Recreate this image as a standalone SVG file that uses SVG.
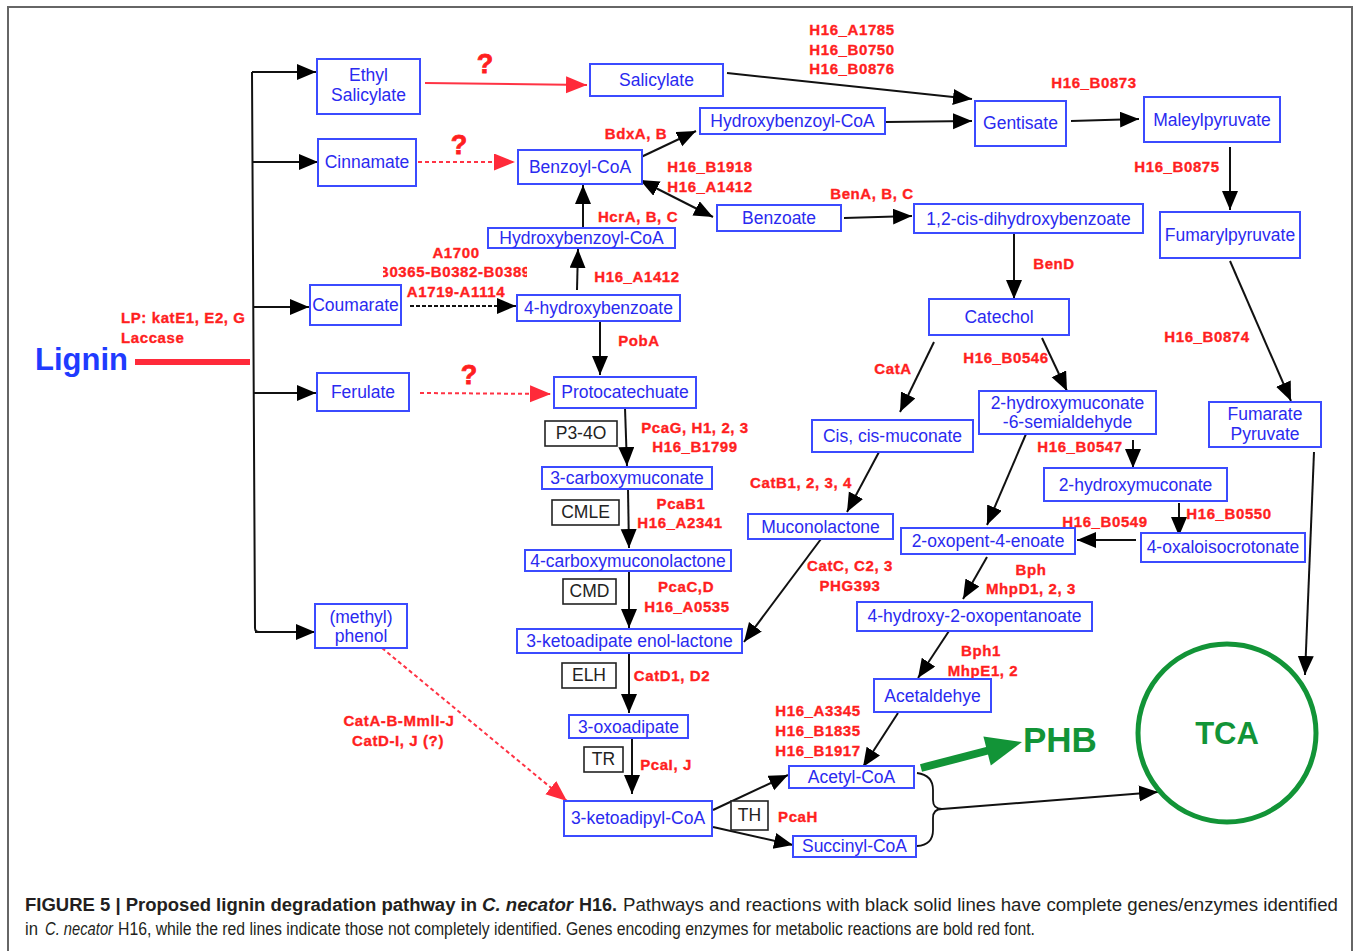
<svg xmlns="http://www.w3.org/2000/svg" width="1355" height="951" viewBox="0 0 1355 951">
<style>
.n rect{fill:#fff;stroke:#3b4bff;stroke-width:2}
.n text{font-family:"Liberation Sans",Arial,sans-serif;font-size:17.5px;fill:#2a2af0;text-anchor:middle}
.b rect{fill:#fff;stroke:#222;stroke-width:1.6}
.b text{font-family:"Liberation Sans",Arial,sans-serif;font-size:17.5px;fill:#222;text-anchor:middle}
.g{font-family:"Liberation Sans",Arial,sans-serif;font-weight:bold;font-size:15px;fill:#ff1f1f;stroke:#ff1f1f;stroke-width:0.35;letter-spacing:0.6px;text-anchor:middle}
.gl{font-family:"Liberation Sans",Arial,sans-serif;font-weight:bold;font-size:15px;fill:#ff1f1f;stroke:#ff1f1f;stroke-width:0.35;letter-spacing:0.6px}
.q{font-family:"Liberation Sans",Arial,sans-serif;font-weight:bold;font-size:27px;fill:#ff1f1f;stroke:#ff1f1f;stroke-width:0.8;text-anchor:middle}
.ln{stroke:#111;stroke-width:2;fill:none;marker-end:url(#ah)}
.rl{stroke:#ff3344;stroke-width:2;fill:none;marker-end:url(#rh)}
.rd{stroke:#ff3344;stroke-width:2;fill:none;stroke-dasharray:4 3;marker-end:url(#rh)}
.kd{stroke:#111;stroke-width:2;fill:none;stroke-dasharray:4 2;marker-end:url(#ah)}
.cap{font-family:"Liberation Sans",Arial,sans-serif;font-size:17.5px;fill:#231f20}
.cb{font-weight:bold}
.ci{font-style:italic}
</style>
<defs>
<marker id="ah" markerUnits="userSpaceOnUse" markerWidth="20" markerHeight="18" refX="19" refY="8" orient="auto-start-reverse"><path d="M0,0 L19,8 L0,16 z" fill="#000"/></marker>
<marker id="rh" markerUnits="userSpaceOnUse" markerWidth="22" markerHeight="18" refX="21" refY="8.5" orient="auto"><path d="M0,0 L21,8.5 L0,17 z" fill="#ff2a3a"/></marker>
<clipPath id="clipB"><rect x="383" y="260" width="144" height="22"/></clipPath>
</defs>

<rect x="8" y="7" width="1344" height="960" fill="#fff" stroke="#666" stroke-width="2"/>

<!-- Connectors -->
<g id="connectors">
  <line x1="135" y1="362" x2="250" y2="362" stroke="#ff2a3a" stroke-width="6"/>
  <path d="M252,72 L255,628 Q255,632 259,632" stroke="#111" stroke-width="2" fill="none"/>
  <line class="ln" x1="252" y1="72" x2="316" y2="72"/>
  <line class="ln" x1="252" y1="162" x2="318" y2="162"/>
  <line class="ln" x1="253" y1="307" x2="309" y2="307"/>
  <line class="ln" x1="254" y1="393" x2="316" y2="393"/>
  <line class="ln" x1="255" y1="632" x2="315" y2="632"/>

  <line class="rl" x1="425" y1="83" x2="587" y2="85"/>
  <line class="rd" x1="418" y1="162" x2="515" y2="162"/>
  <line class="rd" x1="420" y1="393" x2="551" y2="394"/>
  <line class="rd" x1="382" y1="648" x2="567" y2="801"/>
  <line class="kd" x1="410" y1="306" x2="516" y2="306"/>

  <line class="ln" x1="727" y1="73" x2="972" y2="99"/>
  <line class="ln" x1="886" y1="122" x2="972" y2="121"/>
  <line class="ln" x1="1071" y1="121" x2="1139" y2="119"/>
  <line class="ln" x1="1230" y1="147" x2="1230" y2="210"/>
  <line class="ln" x1="1230" y1="261" x2="1291" y2="401"/>
  <line class="ln" x1="1314" y1="452" x2="1305" y2="675"/>
  <line class="ln" x1="639" y1="158" x2="696" y2="131"/>
  <line class="ln" x1="640" y1="180" x2="713" y2="217" marker-start="url(#ah)"/>
  <line class="ln" x1="844" y1="218" x2="912" y2="216"/>
  <line class="ln" x1="1014" y1="234" x2="1014" y2="299"/>
  <line class="ln" x1="583" y1="227" x2="583" y2="185"/>
  <line class="ln" x1="577" y1="290" x2="578" y2="249"/>
  <line class="ln" x1="600" y1="322" x2="600" y2="375"/>
  <line class="ln" x1="625" y1="408" x2="627" y2="466"/>
  <line class="ln" x1="628" y1="489" x2="629" y2="548"/>
  <line class="ln" x1="629" y1="572" x2="629" y2="628"/>
  <line class="ln" x1="821" y1="539" x2="744" y2="642"/>
  <line class="ln" x1="879" y1="452" x2="847" y2="512"/>
  <line class="ln" x1="934" y1="342" x2="900" y2="412"/>
  <line class="ln" x1="1042" y1="338" x2="1067" y2="391"/>
  <line class="ln" x1="1133" y1="440" x2="1133" y2="468"/>
  <line class="ln" x1="1026" y1="434" x2="987" y2="525"/>
  <line class="ln" x1="1179" y1="503" x2="1179" y2="536"/>
  <line class="ln" x1="1136" y1="540" x2="1077" y2="540"/>
  <line class="ln" x1="987" y1="557" x2="963" y2="599"/>
  <line class="ln" x1="949" y1="631" x2="918" y2="678"/>
  <line class="ln" x1="898" y1="713" x2="863" y2="767"/>
  <line class="ln" x1="629" y1="653" x2="629" y2="713"/>
  <line class="ln" x1="632" y1="739" x2="632" y2="794"/>
  <line class="ln" x1="713" y1="810" x2="788" y2="775"/>
  <line class="ln" x1="713" y1="827" x2="793" y2="845"/>

  <path d="M917,773 Q933,775 933,790 L933,800 Q933,809 942,809 Q933,809 933,818 L933,830 Q933,845 917,846" stroke="#111" stroke-width="1.8" fill="none"/>
  <line class="ln" x1="942" y1="809" x2="1158" y2="792"/>

  <line x1="921" y1="768" x2="990" y2="750" stroke="#129437" stroke-width="8"/>
  <polygon points="1022,742 983.4,736.5 990.8,765.5" fill="#129437"/>
</g>

<!-- Gene labels -->
<g id="labels">
  <text class="gl" x="121" y="323">LP: katE1, E2, G</text>
  <text class="gl" x="121" y="343">Laccase</text>
  <text class="q" x="485" y="73">?</text>
  <text class="q" x="459" y="154">?</text>
  <text class="q" x="469" y="384">?</text>
  <text class="g" x="852" y="35">H16_A1785</text>
  <text class="g" x="852" y="55">H16_B0750</text>
  <text class="g" x="852" y="74">H16_B0876</text>
  <text class="g" x="636" y="139">BdxA, B</text>
  <text class="g" x="710" y="172">H16_B1918</text>
  <text class="g" x="710" y="192">H16_A1412</text>
  <text class="g" x="872" y="199">BenA, B, C</text>
  <text class="g" x="638" y="222">HcrA, B, C</text>
  <text class="g" x="637" y="282">H16_A1412</text>
  <text class="g" x="456" y="258">A1700</text>
  <text class="gl" x="378" y="277" clip-path="url(#clipB)">B0365-B0382-B0389</text>
  <text class="g" x="456" y="297">A1719-A1114</text>
  <text class="g" x="1094" y="88">H16_B0873</text>
  <text class="g" x="1177" y="172">H16_B0875</text>
  <text class="g" x="1054" y="269">BenD</text>
  <text class="g" x="639" y="346">PobA</text>
  <text class="g" x="695" y="433">PcaG, H1, 2, 3</text>
  <text class="g" x="695" y="452">H16_B1799</text>
  <text class="g" x="681" y="509">PcaB1</text>
  <text class="g" x="680" y="528">H16_A2341</text>
  <text class="g" x="801" y="488">CatB1, 2, 3, 4</text>
  <text class="g" x="686" y="592">PcaC,D</text>
  <text class="g" x="687" y="612">H16_A0535</text>
  <text class="g" x="850" y="571">CatC, C2, 3</text>
  <text class="g" x="850" y="591">PHG393</text>
  <text class="g" x="893" y="374">CatA</text>
  <text class="g" x="1006" y="363">H16_B0546</text>
  <text class="g" x="1207" y="342">H16_B0874</text>
  <text class="g" x="1080" y="452">H16_B0547</text>
  <text class="g" x="1229" y="519">H16_B0550</text>
  <text class="g" x="1105" y="527">H16_B0549</text>
  <text class="g" x="1031" y="575">Bph</text>
  <text class="g" x="1031" y="594">MhpD1, 2, 3</text>
  <text class="g" x="399" y="726">CatA-B-MmlI-J</text>
  <text class="g" x="398" y="746">CatD-I, J (?)</text>
  <text class="g" x="672" y="681">CatD1, D2</text>
  <text class="g" x="818" y="716">H16_A3345</text>
  <text class="g" x="818" y="736">H16_B1835</text>
  <text class="g" x="818" y="756">H16_B1917</text>
  <text class="g" x="666" y="770">PcaI, J</text>
  <text class="g" x="798" y="822">PcaH</text>
  <text class="g" x="981" y="656">Bph1</text>
  <text class="g" x="983" y="676">MhpE1, 2</text>
</g>

<!-- Nodes -->
<g id="lignin"><text x="35" y="370" font-family="Liberation Sans, Arial, sans-serif" font-weight="bold" font-size="31" fill="#1f3bff">Lignin</text></g>
<g id="ethyl-salicylate" class="n"><rect x="317" y="59" width="103" height="55"/><text><tspan x="368.5" y="81">Ethyl</tspan><tspan x="368.5" y="101">Salicylate</tspan></text></g>
<g id="cinnamate" class="n"><rect x="318" y="139" width="98" height="47"/><text x="367" y="168">Cinnamate</text></g>
<g id="coumarate" class="n"><rect x="310" y="285" width="91" height="40"/><text x="355.5" y="311">Coumarate</text></g>
<g id="ferulate" class="n"><rect x="317" y="373" width="92" height="38"/><text x="363" y="398">Ferulate</text></g>
<g id="methylphenol" class="n"><rect x="315" y="604" width="92" height="44"/><text><tspan x="361" y="623">(methyl)</tspan><tspan x="361" y="642">phenol</tspan></text></g>
<g id="salicylate" class="n"><rect x="590" y="64" width="133" height="32"/><text x="656.5" y="86">Salicylate</text></g>
<g id="hydroxybenzoylcoa-top" class="n"><rect x="700" y="108" width="185" height="26"/><text x="792.5" y="127">Hydroxybenzoyl-CoA</text></g>
<g id="benzoylcoa" class="n"><rect x="518" y="150" width="124" height="34"/><text x="580" y="173">Benzoyl-CoA</text></g>
<g id="benzoate" class="n"><rect x="717" y="205" width="124" height="26"/><text x="779" y="224">Benzoate</text></g>
<g id="hydroxybenzoylcoa-low" class="n"><rect x="488" y="228" width="187" height="20"/><text x="581.5" y="244">Hydroxybenzoyl-CoA</text></g>
<g id="hydroxybenzoate" class="n"><rect x="517" y="295" width="163" height="26"/><text x="598.5" y="314">4-hydroxybenzoate</text></g>
<g id="gentisate" class="n"><rect x="975" y="101" width="91" height="45"/><text x="1020.5" y="129">Gentisate</text></g>
<g id="maleylpyruvate" class="n"><rect x="1144" y="97" width="136" height="45"/><text x="1212" y="126">Maleylpyruvate</text></g>
<g id="dihydroxybenzoate" class="n"><rect x="914" y="204" width="229" height="29"/><text x="1028.5" y="225">1,2-cis-dihydroxybenzoate</text></g>
<g id="fumarylpyruvate" class="n"><rect x="1160" y="212" width="140" height="46"/><text x="1230" y="241">Fumarylpyruvate</text></g>
<g id="catechol" class="n"><rect x="929" y="299" width="140" height="36"/><text x="999" y="323">Catechol</text></g>
<g id="protocatechuate" class="n"><rect x="554" y="377" width="142" height="31"/><text x="625" y="398">Protocatechuate</text></g>
<g id="carboxymuconate" class="n"><rect x="542" y="467" width="170" height="22"/><text x="627" y="484">3-carboxymuconate</text></g>
<g id="carboxymuconolactone" class="n"><rect x="525" y="550" width="206" height="21"/><text x="628" y="567">4-carboxymuconolactone</text></g>
<g id="ciscismuconate" class="n"><rect x="812" y="420" width="161" height="32"/><text x="892.5" y="442">Cis, cis-muconate</text></g>
<g id="muconolactone" class="n"><rect x="748" y="514" width="145" height="25"/><text x="820.5" y="533">Muconolactone</text></g>
<g id="semialdehyde" class="n"><rect x="979" y="391" width="177" height="43"/><text><tspan x="1067.5" y="409">2-hydroxymuconate</tspan><tspan x="1067.5" y="428">-6-semialdehyde</tspan></text></g>
<g id="fumaratepyruvate" class="n"><rect x="1209" y="402" width="112" height="45"/><text><tspan x="1265" y="420">Fumarate</tspan><tspan x="1265" y="440">Pyruvate</tspan></text></g>
<g id="hydroxymuconate" class="n"><rect x="1044" y="468" width="183" height="33"/><text x="1135.5" y="491">2-hydroxymuconate</text></g>
<g id="oxopentenoate" class="n"><rect x="901" y="528" width="174" height="26"/><text x="988" y="547">2-oxopent-4-enoate</text></g>
<g id="oxaloisocrotonate" class="n"><rect x="1141" y="533" width="164" height="29"/><text x="1223" y="553">4-oxaloisocrotonate</text></g>
<g id="hydroxyoxopentanoate" class="n"><rect x="857" y="602" width="235" height="29"/><text x="974.5" y="622">4-hydroxy-2-oxopentanoate</text></g>
<g id="enollactone" class="n"><rect x="517" y="629" width="225" height="24"/><text x="629.5" y="647">3-ketoadipate enol-lactone</text></g>
<g id="oxoadipate" class="n"><rect x="569" y="715" width="119" height="23"/><text x="628.5" y="733">3-oxoadipate</text></g>
<g id="ketoadipylcoa" class="n"><rect x="564" y="801" width="148" height="35"/><text x="638" y="824">3-ketoadipyl-CoA</text></g>
<g id="acetylcoa" class="n"><rect x="789" y="766" width="125" height="22"/><text x="851.5" y="783">Acetyl-CoA</text></g>
<g id="succinylcoa" class="n"><rect x="793" y="836" width="123" height="21"/><text x="854.5" y="852">Succinyl-CoA</text></g>
<g id="acetaldehye" class="n"><rect x="874" y="679" width="117" height="33"/><text x="932.5" y="702">Acetaldehye</text></g>
<g id="p34o" class="b"><rect x="545" y="421" width="72" height="25"/><text x="581" y="439">P3-4O</text></g>
<g id="cmle" class="b"><rect x="552" y="500" width="67" height="25"/><text x="585.5" y="518">CMLE</text></g>
<g id="cmd" class="b"><rect x="563" y="579" width="53" height="25"/><text x="589.5" y="597">CMD</text></g>
<g id="elh" class="b"><rect x="562" y="663" width="54" height="25"/><text x="589" y="681">ELH</text></g>
<g id="tr" class="b"><rect x="584" y="747" width="39" height="25"/><text x="603.5" y="765">TR</text></g>
<g id="th" class="b"><rect x="731" y="801" width="37" height="29"/><text x="749.5" y="821">TH</text></g>
<g id="tca"><circle cx="1227" cy="733" r="89" fill="none" stroke="#129437" stroke-width="5"/><text x="1227" y="744" text-anchor="middle" font-family="Liberation Sans, Arial, sans-serif" font-weight="bold" font-size="31" fill="#129437">TCA</text></g>
<g id="phb"><text x="1023" y="752" font-family="Liberation Sans, Arial, sans-serif" font-weight="bold" font-size="35" fill="#129437">PHB</text></g>

<!-- Caption -->
<g id="caption" class="cap">
<text class="cap cb" x="25" y="911" textLength="452" lengthAdjust="spacingAndGlyphs">FIGURE 5 | Proposed lignin degradation pathway in</text>
<text class="cap cb ci" x="482" y="911" textLength="91" lengthAdjust="spacingAndGlyphs">C. necator</text>
<text class="cap cb" x="579" y="911" textLength="38" lengthAdjust="spacingAndGlyphs">H16.</text>
<text class="cap" x="623" y="911" textLength="715" lengthAdjust="spacingAndGlyphs">Pathways and reactions with black solid lines have complete genes/enzymes identified</text>
<text class="cap" x="25" y="935" textLength="13" lengthAdjust="spacingAndGlyphs">in</text>
<text class="cap ci" x="45" y="935" textLength="68" lengthAdjust="spacingAndGlyphs">C. necator</text>
<text class="cap" x="118" y="935" textLength="917" lengthAdjust="spacingAndGlyphs">H16, while the red lines indicate those not completely identified. Genes encoding enzymes for metabolic reactions are bold red font.</text>
</g>
</svg>
